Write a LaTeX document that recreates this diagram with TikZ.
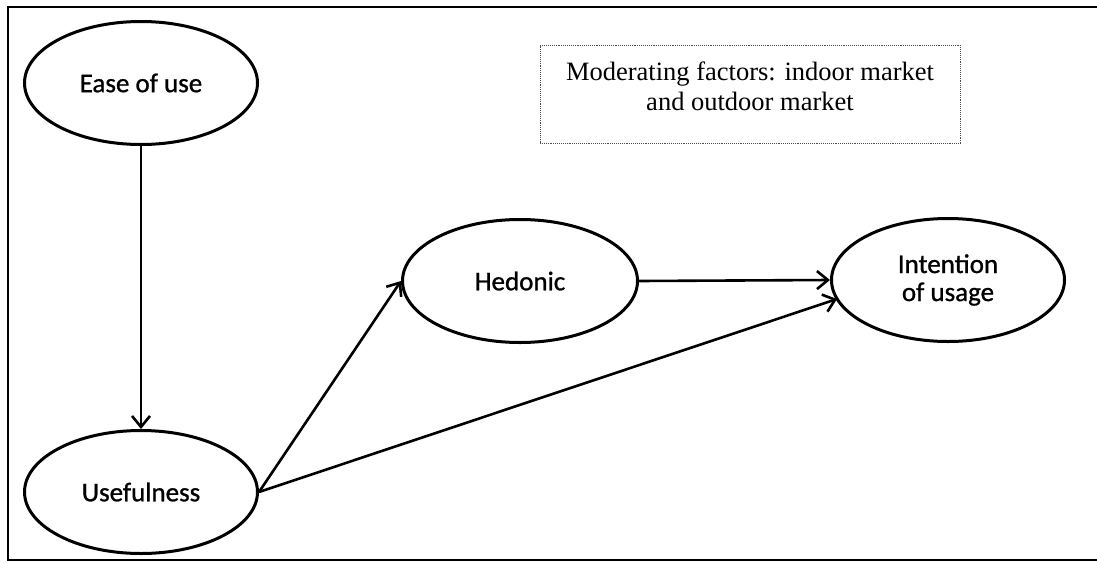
\documentclass[tikz,border=0pt]{standalone}
\usepackage{fontspec}
\setmainfont{Liberation Serif}
\newfontfamily\ellfont[FakeBold=1]{Carlito}
\usetikzlibrary{arrows.meta,shapes.geometric}
\begin{document}
\begin{tikzpicture}[x=1pt,y=-1pt,
  construct/.style={draw, line width=3pt, ellipse, minimum width=233pt, minimum height=123pt, inner sep=0pt, font=\ellfont\fontsize{27}{28}\selectfont, align=center},
  link/.style={draw, line width=2.6pt, -{Straight Barb[length=11pt,width=18pt,line width=2.6pt]}},
  note/.style={draw, densely dotted, line width=0.9pt, gray!60!black, text=black, inner sep=0pt, font=\fontsize{26.5}{30}\selectfont, align=center}]
\useasboundingbox (0,0) rectangle (1097,562);
\draw[line width=2pt] (1097,7) -- (8,7) -- (8,560) -- (1097,560);
\node[construct] (ease) at (141,83) {Ease of use};
\node[construct] (use) at (141,492) {Usefulness};
\node[construct, minimum width=235pt] (hed) at (520,281) {Hedonic};
\node[construct] (int) at (948,280) {Intention\\of usage};
\node[note, minimum width=420pt, minimum height=98pt] (mod) at (750,94) {Moderating factors: indoor market\\and outdoor market\rule[-16pt]{0pt}{1pt}};
\draw[link] (ease) -- (use);
\draw[link] (use.east) -- (hed.west);
\draw[link] (hed.east) -- (int.west);
\coordinate (tip) at (837,299);
\draw[link] (use.east) -- (tip);
\end{tikzpicture}
\end{document}
